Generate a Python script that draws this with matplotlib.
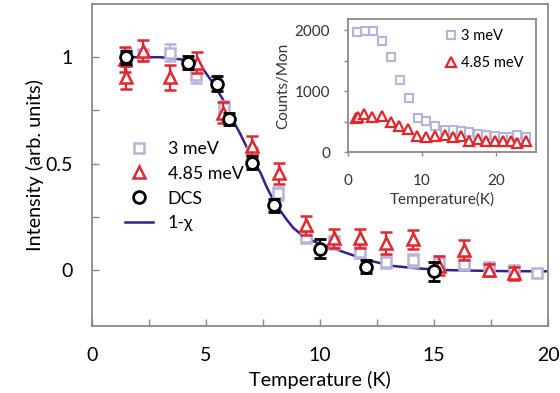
import matplotlib
matplotlib.use("Agg")
import matplotlib.pyplot as plt
from matplotlib.lines import Line2D

plt.rcParams['font.family'] = ['Lato', 'DejaVu Sans']

# ---- main panel data ----
sq_T = [1.5, 2.25, 3.4, 4.55, 5.8, 7.0, 8.17, 9.4, 10.6, 11.75, 12.9, 14.1, 15.2, 16.3, 17.4, 18.5, 19.5]
sq_I = [1.00, 1.01, 1.02, 0.915, 0.76, 0.55, 0.36, 0.155, 0.13, 0.085, 0.04, 0.045, 0.035, 0.03, 0.01, -0.005, -0.013]
sq_E = [0.04, 0.03, 0.04, 0.035, 0.035, 0.03, 0.03, 0.03, 0.03, 0.03, 0.03, 0.03, 0.03, 0.03, 0.03, 0.03, 0.02]

tr_T = [1.45, 1.5, 2.25, 3.4, 4.6, 5.75, 7.0, 8.2, 9.4, 10.6, 11.75, 12.9, 14.1, 15.2, 16.3, 17.4, 18.5]
tr_I = [0.99, 0.905, 1.03, 0.905, 0.975, 0.74, 0.585, 0.455, 0.21, 0.15, 0.15, 0.127, 0.145, 0.02, 0.094, 0.0, -0.015]
tr_E = [0.06, 0.055, 0.05, 0.06, 0.05, 0.05, 0.045, 0.05, 0.045, 0.045, 0.045, 0.05, 0.045, 0.045, 0.045, 0.03, 0.03]

dcs_T = [1.5, 4.2, 5.5, 6.0, 7.0, 8.0, 10.0, 12.0, 15.0]
dcs_I = [1.0, 0.975, 0.875, 0.71, 0.505, 0.305, 0.10, 0.015, -0.005]
dcs_E = [0.03, 0.03, 0.035, 0.03, 0.03, 0.03, 0.045, 0.03, 0.045]

chi_T = [1.5, 2.2, 3.0, 3.9, 4.5, 4.9, 5.3, 5.75, 6.1, 6.5, 7.0, 7.4, 7.66, 7.95, 8.25, 8.55, 8.83, 9.12,
         9.4, 9.7, 10.0, 10.44, 11.0, 12.05, 13.2, 14.24, 15.4, 16.8, 18.0, 19.5, 20.0]
chi_I = [1.0, 1.0, 1.0, 0.99, 0.97, 0.94, 0.88, 0.80, 0.72, 0.64, 0.53, 0.455, 0.39, 0.33, 0.28, 0.235, 0.198, 0.172,
         0.152, 0.136, 0.122, 0.108, 0.086, 0.047, 0.019, 0.008, 0.0, -0.003, -0.005, -0.006, -0.006]

# ---- inset data ----
in_sq_T = [1.26, 2.3, 3.4, 4.6, 5.8, 7.0, 8.2, 9.4, 10.6, 11.8, 13.1, 14.2, 15.3, 16.4, 17.5, 18.6, 19.8, 20.9, 22.0, 22.9, 24.1]
in_sq_C = [1973, 1989, 1989, 1820, 1563, 1180, 880, 552, 513, 426, 361, 361, 344, 333, 295, 279, 262, 251, 251, 279, 251]
in_tr_T = [1.1, 1.3, 2.2, 3.3, 4.55, 5.77, 6.9, 8.15, 9.36, 10.5, 11.76, 13.1, 14.2, 15.3, 16.4, 17.5, 18.6, 19.8, 20.9, 22.0, 22.9, 24.1]
in_tr_C = [560, 579, 618, 569, 590, 497, 426, 377, 267, 251, 262, 279, 251, 267, 185, 208, 185, 185, 185, 180, 152, 185]

lav = '#b4b4dc'
red = '#e3262d'
curve_c = '#3b1d8f'
spine_c = '#8a8a8a'

fig = plt.figure(figsize=(5.6, 3.93), dpi=100)
ax = fig.add_axes([0.1643, 0.1705, 0.8143, 0.8193])

ax.plot(chi_T, chi_I, color=curve_c, lw=1.8, zorder=2)
ax.errorbar(sq_T, sq_I, yerr=sq_E, fmt='s', ms=7.5, mfc='white', mec=lav, mew=1.8,
            ecolor=lav, elinewidth=1.6, capsize=4, capthick=1.6, zorder=3)
ax.errorbar(tr_T, tr_I, yerr=tr_E, fmt='^', ms=9, mfc='white', mec=red, mew=1.8,
            ecolor=red, elinewidth=1.6, capsize=4.5, capthick=1.6, zorder=4)
ax.errorbar(dcs_T, dcs_I, yerr=dcs_E, fmt='o', ms=8.5, mfc='white', mec='black', mew=2.0,
            ecolor='black', elinewidth=1.6, capsize=4, capthick=1.8, zorder=5)

ax.set_xlim(0, 20)
ax.set_ylim(-0.263, 1.25)
ax.set_xticks([0, 5, 10, 15, 20])
ax.set_xticks([2.5, 7.5, 12.5, 17.5], minor=True)
ax.set_yticks([0, 0.5, 1])
ax.set_yticklabels(['0', '0.5', '1'])
ax.set_yticks([0.25, 0.75], minor=True)
ax.tick_params(which='both', direction='in', length=5, width=1, color=spine_c,
               labelsize=14, pad=14)
ax.tick_params(axis='x', pad=15)
for s in ax.spines.values():
    s.set_color(spine_c)
    s.set_linewidth(1.3)
ax.set_xlabel('Temperature (K)', fontsize=14.3, labelpad=5)
ax.set_ylabel('Intensity (arb. units)', fontsize=14.3, labelpad=1)

handles = [
    Line2D([], [], ls='none', marker='s', ms=7.5, mfc='white', mec=lav, mew=1.8),
    Line2D([], [], ls='none', marker='^', ms=9, mfc='white', mec=red, mew=1.8),
    Line2D([], [], ls='none', marker='o', ms=8.5, mfc='white', mec='black', mew=2.0),
    Line2D([], [], color=curve_c, lw=1.8),
]
ax.legend(handles, ['3 meV', '4.85 meV', 'DCS', '1-χ'], loc='upper left',
          bbox_to_anchor=(0.037, 0.625), frameon=False, fontsize=12.8,
          handlelength=1.6, handletextpad=0.8, labelspacing=0.5)

# ---- inset ----
ins = fig.add_axes([0.6214, 0.6132, 0.3357, 0.3384])
ins.plot(in_sq_T, in_sq_C, ls='none', marker='s', ms=6, mfc='white', mec=lav, mew=1.5, label='3 meV')
ins.plot(in_tr_T, in_tr_C, ls='none', marker='^', ms=7, mfc='white', mec=red, mew=1.6, label='4.85 meV')
ins.set_xlim(0, 25.4)
ins.set_ylim(0, 2180)
ins.set_xticks([0, 10, 20])
ins.set_yticks([0, 500, 1000, 1500, 2000])
ins.set_yticklabels(['0', '', '1000', '', '2000'])
ins.tick_params(which='both', direction='out', length=3, width=1, color=spine_c,
                labelsize=11, labelcolor='#333333', pad=10)
ins.tick_params(axis='x', pad=13)
for s in ins.spines.values():
    s.set_color(spine_c)
    s.set_linewidth(1.3)
ins.set_xlabel('Temperature(K)', fontsize=11, color='#333333', labelpad=3)
ins.set_ylabel('Counts/Mon', fontsize=11, color='#333333', labelpad=3)
ins.legend(loc='upper right', frameon=False, fontsize=10.5, handlelength=0.8,
           handletextpad=0.3, labelspacing=0.9, borderaxespad=0.3,
           bbox_to_anchor=(0.99, 1.0))

fig.savefig('out.png', dpi=100)
